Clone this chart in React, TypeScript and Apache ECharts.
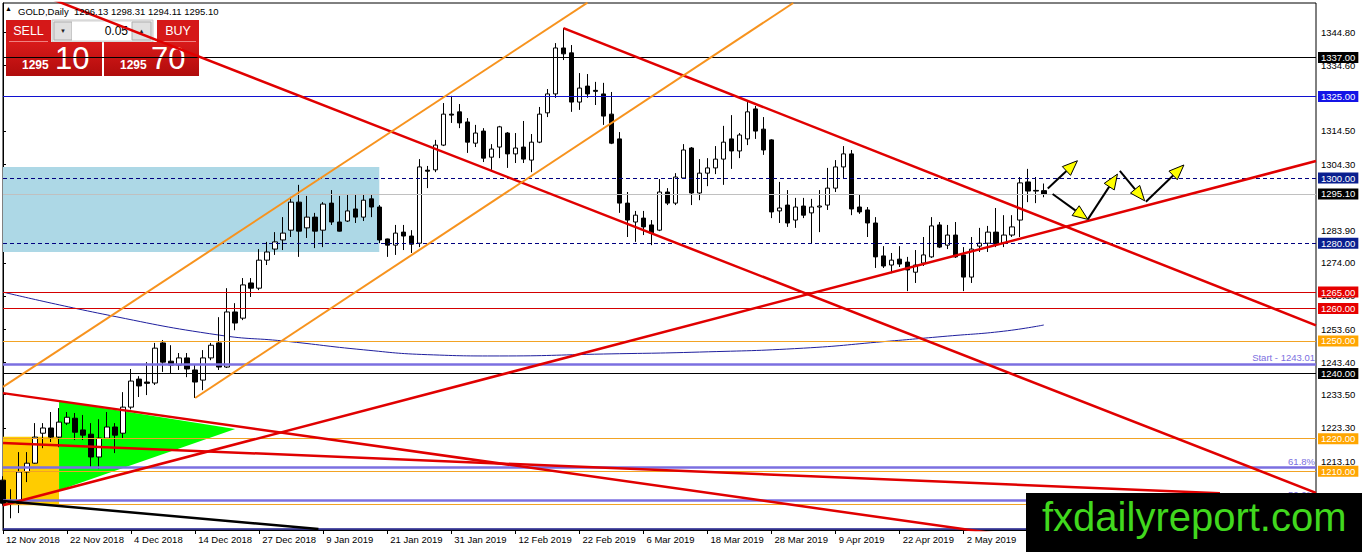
import React, { useEffect, useRef } from "react";
import * as echarts from "echarts";

// ---------- data ----------
const xTickLabels = [
  "12 Nov 2018", "22 Nov 2018", "4 Dec 2018", "14 Dec 2018", "27 Dec 2018", "9 Jan 2019",
  "21 Jan 2019", "31 Jan 2019", "12 Feb 2019", "22 Feb 2019", "6 Mar 2019", "18 Mar 2019",
  "28 Mar 2019", "9 Apr 2019", "22 Apr 2019", "2 May 2019",
];
const barsPerLabel = 8;
const totalSlots = 165;

const opens = [
  1207.3, 1200.6, 1200.2, 1209.8, 1212.5, 1221.7, 1223.3, 1220.5, 1224.8, 1226.3,
  1222.7, 1221.4, 1214.4, 1220.2, 1223.6, 1221.7, 1229.7, 1238.3, 1237.4, 1237.1,
  1249.4, 1243.8, 1242.6, 1244.8, 1241.1, 1238.0, 1244.8, 1249.4, 1242.0, 1258.9,
  1257.0, 1267.8, 1266.2, 1274.8, 1278.2, 1281.0, 1284.0, 1292.6, 1284.7, 1288.0,
  1284.0, 1292.3, 1286.5, 1286.8, 1290.5, 1288.0, 1293.6, 1291.1, 1281.3, 1279.4,
  1283.4, 1282.2, 1280.0, 1302.4, 1302.5, 1310.1, 1319.6, 1320.3, 1317.2, 1310.7,
  1314.4, 1306.4, 1309.5, 1313.8, 1307.4, 1309.5, 1305.5, 1311.0, 1320.0, 1325.8,
  1339.9, 1338.4, 1323.3, 1328.2, 1326.9, 1325.8, 1319.6, 1312.0, 1292.3, 1286.5,
  1287.7, 1285.6, 1284.0, 1295.7, 1292.3, 1300.0, 1309.2, 1295.4, 1301.5, 1303.1,
  1305.8, 1312.0, 1308.3, 1312.0, 1321.2, 1315.0, 1311.7, 1289.9, 1291.7, 1287.1,
  1291.4, 1289.3, 1291.1, 1291.7, 1296.9, 1303.4, 1307.4, 1291.1, 1290.2, 1286.2,
  1276.1, 1273.3, 1275.1, 1274.2, 1271.1, 1273.9, 1275.8, 1285.6, 1279.4, 1282.5,
  1276.4, 1269.6, 1279.1, 1280.0, 1283.4, 1280.0, 1282.5, 1287.1, 1298.8, 1296.2,
  1296.13,
];
const highs = [
  1208.5, 1204.5, 1215.9, 1215.9, 1224.8, 1224.8, 1228.2, 1229.4, 1228.2, 1227.9,
  1227.3, 1224.8, 1226.0, 1228.2, 1224.8, 1234.3, 1241.4, 1239.2, 1243.5, 1249.4,
  1250.3, 1248.7, 1246.3, 1246.3, 1242.6, 1247.2, 1249.4, 1257.3, 1266.2, 1261.6,
  1269.3, 1269.3, 1278.2, 1280.4, 1283.4, 1288.0, 1294.2, 1297.9, 1294.5, 1289.3,
  1292.6, 1296.3, 1294.5, 1295.1, 1295.1, 1295.1, 1295.1, 1291.7, 1281.4, 1285.6,
  1285.6, 1284.0, 1305.8, 1303.7, 1311.7, 1323.0, 1325.2, 1322.7, 1318.4, 1316.3,
  1315.3, 1310.4, 1316.0, 1314.1, 1313.8, 1317.5, 1313.5, 1321.8, 1327.3, 1341.4,
  1346.0, 1340.8, 1332.2, 1331.9, 1329.5, 1329.2, 1326.4, 1314.1, 1295.7, 1289.9,
  1289.9, 1287.1, 1299.7, 1296.9, 1301.5, 1310.4, 1309.5, 1305.8, 1306.1, 1309.8,
  1316.0, 1319.3, 1313.8, 1323.3, 1322.1, 1318.7, 1311.9, 1298.8, 1296.3, 1293.9,
  1293.9, 1293.6, 1296.3, 1303.1, 1305.5, 1309.8, 1308.6, 1295.1, 1291.1, 1288.0,
  1279.1, 1277.0, 1279.1, 1275.8, 1277.9, 1281.9, 1288.0, 1286.5, 1285.6, 1286.5,
  1278.8, 1281.9, 1284.7, 1285.3, 1290.8, 1288.6, 1288.6, 1300.3, 1302.8, 1300.3,
  1298.31,
];
const lows = [
  1199.5, 1195.6, 1197.2, 1206.7, 1212.3, 1217.1, 1219.0, 1217.4, 1224.2, 1219.6,
  1219.6, 1211.3, 1210.7, 1220.0, 1215.6, 1220.2, 1229.0, 1232.8, 1233.4, 1236.5,
  1240.5, 1240.1, 1241.1, 1238.9, 1232.5, 1234.9, 1244.1, 1241.1, 1241.7, 1253.3,
  1256.4, 1263.5, 1265.6, 1273.3, 1276.4, 1277.9, 1281.9, 1275.8, 1281.6, 1278.5,
  1278.8, 1285.6, 1283.6, 1286.5, 1286.2, 1286.8, 1288.0, 1280.0, 1275.8, 1276.4,
  1277.9, 1277.0, 1278.8, 1296.9, 1301.8, 1309.8, 1316.9, 1315.3, 1307.7, 1309.5,
  1304.9, 1302.5, 1306.1, 1303.1, 1304.6, 1304.6, 1301.8, 1310.7, 1318.7, 1324.6,
  1336.2, 1320.3, 1320.9, 1324.6, 1322.4, 1316.3, 1310.4, 1289.3, 1281.9, 1280.4,
  1282.5, 1279.4, 1283.7, 1291.7, 1291.7, 1299.7, 1291.7, 1293.2, 1297.5, 1301.2,
  1297.9, 1302.8, 1306.1, 1310.1, 1312.0, 1307.1, 1287.7, 1286.2, 1285.0, 1284.7,
  1287.7, 1280.0, 1283.4, 1290.2, 1295.7, 1300.0, 1288.6, 1289.0, 1281.9, 1272.4,
  1272.4, 1270.8, 1272.7, 1265.3, 1267.8, 1273.0, 1275.5, 1278.5, 1278.2, 1275.5,
  1265.3, 1267.8, 1277.3, 1277.3, 1278.8, 1278.8, 1281.9, 1281.9, 1292.6, 1292.3,
  1294.11,
];
const closes = [
  1200.2, 1200.4, 1209.8, 1212.5, 1220.5, 1223.3, 1220.5, 1225.1, 1226.6, 1222.0,
  1221.1, 1214.4, 1220.2, 1223.6, 1221.1, 1229.7, 1237.7, 1236.2, 1237.0, 1247.8,
  1243.5, 1242.6, 1244.8, 1241.4, 1237.4, 1244.8, 1248.7, 1242.0, 1258.9, 1255.5,
  1267.2, 1266.2, 1274.8, 1277.3, 1280.4, 1283.1, 1292.6, 1283.7, 1288.0, 1283.7,
  1292.0, 1286.5, 1283.7, 1289.9, 1288.0, 1293.2, 1291.1, 1281.0, 1279.4, 1283.1,
  1282.2, 1279.7, 1303.4, 1302.1, 1310.1, 1319.6, 1319.3, 1316.9, 1311.0, 1313.8,
  1306.1, 1308.9, 1315.7, 1307.4, 1309.2, 1305.8, 1311.0, 1319.6, 1325.8, 1339.9,
  1338.1, 1323.3, 1327.6, 1325.8, 1326.6, 1319.0, 1310.7, 1292.3, 1287.1, 1288.6,
  1285.0, 1283.1, 1295.7, 1292.3, 1300.3, 1308.6, 1295.4, 1301.5, 1303.1, 1305.8,
  1311.0, 1308.3, 1313.2, 1320.3, 1314.4, 1308.6, 1289.6, 1290.8, 1286.2, 1291.1,
  1288.6, 1291.1, 1291.4, 1296.9, 1303.4, 1307.4, 1290.5, 1289.6, 1286.2, 1275.8,
  1273.0, 1274.8, 1273.6, 1271.8, 1273.3, 1276.4, 1285.3, 1278.8, 1282.5, 1275.8,
  1269.6, 1278.2, 1280.0, 1283.4, 1279.7, 1282.5, 1285.0, 1298.5, 1296.0, 1296.0,
  1295.10,
];

// visible right-axis tick labels (those hidden under price tags are left out)
const yTicks = [1344.8, 1334.6, 1314.5, 1304.3, 1283.9, 1274.0, 1263.8, 1253.6, 1243.4, 1233.5, 1223.3, 1213.1];
const yMin = 1192;
const yMax = 1353.7;

// horizontal price levels
const blackLevels = [1337, 1240];
const blueLevels = [1325];
const dashedLevels = [1300, 1280];
const bidLevels = [1295.1];
const redLevels = [1265, 1260];
const orangeLevels = [1250, 1220, 1210];
const orangeHiddenLevels = [1200];
const fibLevels = [1243.01, 1211.3, 1201.2];
const fibNames = ["Start - 1243.01", "61.8%", "50.0%"];
const bottomLevel = [1192.3];

// trend lines: [barIndex, price]
const redTrendLines = [
  [[6, 1355.0], [164, 1203.4]],
  [[70, 1346.0], [164, 1254.8]],
  [[0, 1199.6], [164, 1305.2]],
  [[0, 1234.0], [130, 1188.8]],
  [[0, 1218.7], [152, 1203.3]],
];
const blackTrendLine = [[0, 1200.9], [39.4, 1192.3]];
const orangeChannel = [
  [[0, 1235.9], [73, 1353.8]],
  [[24, 1232.5], [98.7, 1353.7]],
];
const movingAverage = [
  [0, 1265.0], [13, 1258.0], [27, 1251.8], [35, 1250.0], [45, 1247.3], [53, 1245.8],
  [62, 1245.4], [75, 1246.0], [87, 1246.6], [100, 1247.8], [110, 1249.8], [118, 1251.5],
  [125, 1253.0], [130, 1254.9],
];

// zones
const blueZone = [[-1, 1277.3], [47, 1277.3], [47, 1303.4], [-1, 1303.4]];
const yellowZone = [[-1, 1199.6], [7, 1199.6], [7, 1220.6], [-1, 1220.6]];
const greenTriangle = [[7, 1231.6], [7, 1204.2], [29, 1223.0]];

// projected path arrows: [from, to]
const arrows = [
  [[130.5, 1296.8], [134.2, 1305.3]],
  [[131.1, 1295.1], [135.5, 1287.3]],
  [[135.5, 1287.3], [139.2, 1301.2]],
  [[139.5, 1302.2], [142.6, 1293.0]],
  [[142.75, 1292.7], [147.5, 1304.0]],
];

const headerText = "GOLD,Daily  1296.13 1298.31 1294.11 1295.10";

// ---------- chart ----------
const FONT = "'Liberation Sans', Arial, sans-serif";

export default function App() {
  const ref = useRef<HTMLDivElement>(null);

  useEffect(() => {
    if (!ref.current) return;
    const chart = echarts.init(ref.current, undefined, { renderer: "svg" });

    const categories = Array.from({ length: totalSlots }, (_, i) => String(i));
    const candleData = opens.map((o, i) => [o, closes[i], lows[i], highs[i]]);
    const showTick = (idx: number) => idx % barsPerLabel === 0 && idx / barsPerLabel < xTickLabels.length;

    const priceLabel = (bg: string) => ({
      show: true,
      position: "end",
      distance: 2,
      formatter: (p: any) => Number(p.value).toFixed(2),
      backgroundColor: bg,
      color: "#fff",
      padding: [1, 3, 0, 3],
      fontSize: 9.5,
      fontFamily: FONT,
    });
    const noLabel = { show: false };
    const hl = (v: number, color: string, width: number, type: any, label: any) => ({
      yAxis: v,
      lineStyle: { color, width, type },
      label,
    });

    const markLines: any[] = [
      ...blackLevels.map((v) => hl(v, "#000", 1, "solid", priceLabel("#000"))),
      ...blueLevels.map((v) => hl(v, "#1010d0", 1, "solid", priceLabel("#1414e6"))),
      ...dashedLevels.map((v) => hl(v, "#000080", 1, [4, 3], priceLabel("#0a1f8f"))),
      ...bidLevels.map((v) => hl(v, "#c0c0c0", 1, "solid", priceLabel("#000"))),
      ...redLevels.map((v) => hl(v, "#d40000", 1, "solid", priceLabel("#e60000"))),
      ...orangeLevels.map((v) => hl(v, "#f2a324", 1, "solid", priceLabel("#ffa500"))),
      ...orangeHiddenLevels.map((v) => hl(v, "#f2a324", 1, "solid", noLabel)),
      ...fibLevels.map((v, i) =>
        hl(v, "#7b6fe0", 2.5, "solid", {
          show: true,
          position: "insideEndTop",
          distance: 1,
          formatter: fibNames[i],
          color: "#7b6fe0",
          fontSize: 9.5,
          fontFamily: FONT,
        })
      ),
      ...bottomLevel.map((v) => hl(v, "#1a1a8a", 1.5, "solid", noLabel)),
    ];

    const lineSeries = (pts: number[][], color: string, width: number, z: number, smooth = false) => ({
      type: "line",
      xAxisIndex: 1,
      yAxisIndex: 0,
      data: pts,
      showSymbol: false,
      symbol: "none",
      smooth,
      clip: true,
      silent: true,
      z,
      lineStyle: { color, width },
    });

    const shapes = [
      { pts: blueZone, color: "#add8e6" },
      { pts: yellowZone, color: "#ffcc00" },
      { pts: greenTriangle, color: "#00ff00" },
    ];

    const option: any = {
      animation: false,
      backgroundColor: "#fff",
      grid: { left: 3, right: 46, top: 3, bottom: 22, show: true, borderColor: "#000", borderWidth: 1, backgroundColor: "transparent" },
      xAxis: [
        {
          type: "category",
          data: categories,
          boundaryGap: false,
          axisLine: { lineStyle: { color: "#000", width: 1 } },
          axisTick: { show: true, interval: (idx: number) => showTick(idx), length: 4, lineStyle: { color: "#000" } },
          axisLabel: {
            interval: (idx: number) => showTick(idx),
            formatter: (_v: string, idx: number) => xTickLabels[idx / barsPerLabel] ?? "",
            align: "left",
            padding: [0, 0, 0, 3],
            margin: 4,
            fontSize: 9.5,
            color: "#000",
            fontFamily: FONT,
          },
          splitLine: { show: false },
        },
        { type: "value", min: 0, max: totalSlots - 1, show: false },
      ],
      yAxis: {
        type: "value",
        position: "right",
        min: yMin,
        max: yMax,
        splitLine: { show: false },
        axisLine: { show: true, lineStyle: { color: "#000" } },
        axisTick: { show: true, length: 3, customValues: yTicks, lineStyle: { color: "#000" } },
        axisLabel: {
          customValues: yTicks,
          formatter: (v: number) => v.toFixed(2),
          fontSize: 9.5,
          margin: 5,
          color: "#000",
          fontFamily: FONT,
        },
      },
      series: [
        {
          type: "custom",
          xAxisIndex: 1,
          yAxisIndex: 0,
          silent: true,
          z: 1,
          data: shapes.map((s) => s.pts[s.pts.length - 1].map((v, k) => (k === 0 ? Math.max(0, v) : v))),
          renderItem: (params: any, api: any) => {
            const s = shapes[params.dataIndex];
            const cs = params.coordSys;
            const pts = s.pts.map((p) => {
              const c = api.coord(p);
              return [
                Math.max(cs.x, Math.min(cs.x + cs.width, c[0])),
                Math.max(cs.y, Math.min(cs.y + cs.height, c[1])),
              ];
            });
            return { type: "polygon", shape: { points: pts }, style: { fill: s.color } };
          },
        },
        lineSeries(movingAverage, "#1f1f9e", 1, 2, true),
        {
          type: "candlestick",
          xAxisIndex: 0,
          yAxisIndex: 0,
          data: candleData,
          barWidth: 5,
          clip: true,
          silent: true,
          z: 3,
          itemStyle: { color: "#fff", color0: "#000", borderColor: "#000", borderColor0: "#000", borderWidth: 1 },
          markLine: {
            symbol: ["none", "none"],
            silent: true,
            animation: false,
            data: markLines,
          },
        },
        ...redTrendLines.map((l) => lineSeries(l, "#e00000", 2.5, 6)),
        lineSeries(blackTrendLine, "#000", 2.5, 6),
        ...orangeChannel.map((l) => lineSeries(l, "#f7931e", 2, 6)),
        {
          type: "custom",
          xAxisIndex: 1,
          yAxisIndex: 0,
          silent: true,
          z: 8,
          data: arrows.map((a) => a[1]),
          renderItem: (params: any, api: any) => {
            const a = arrows[params.dataIndex];
            const s = api.coord(a[0]);
            const t = api.coord(a[1]);
            const dx = t[0] - s[0];
            const dy = t[1] - s[1];
            const len = Math.sqrt(dx * dx + dy * dy) || 1;
            const ux = dx / len;
            const uy = dy / len;
            const L = 15;
            const W = 12;
            const bx = t[0] - ux * L;
            const by = t[1] - uy * L;
            const nx = -uy;
            const ny = ux;
            return {
              type: "group",
              children: [
                { type: "line", shape: { x1: s[0], y1: s[1], x2: bx, y2: by }, style: { stroke: "#000", lineWidth: 2 } },
                {
                  type: "polygon",
                  shape: { points: [t, [bx + (nx * W) / 2, by + (ny * W) / 2], [bx - (nx * W) / 2, by - (ny * W) / 2]] },
                  style: { fill: "#ffff00", stroke: "#000", lineWidth: 1 },
                },
              ],
            };
          },
        },
      ],
      graphic: [
        // header
        { type: "text", left: 5, top: 5, z: 100, style: { text: "▲", fontSize: 7, fill: "#000", fontFamily: FONT } },
        { type: "text", x: 18, y: 11, z: 100, style: { text: headerText, fontSize: 9.5, fill: "#000", fontFamily: FONT, verticalAlign: "middle" } },
        // trade panel
        {
          type: "group",
          z: 100,
          children: [
            { type: "rect", shape: { x: 6, y: 20, width: 45, height: 22 }, style: { fill: "#d51818" } },
            { type: "line", shape: { x1: 9, y1: 41.5, x2: 48, y2: 41.5 }, style: { stroke: "#f08080", lineWidth: 1 } },
            { type: "text", x: 28.5, y: 31, style: { text: "SELL", fill: "#fff", fontSize: 12.5, fontFamily: FONT, align: "center", verticalAlign: "middle" } },
            { type: "rect", shape: { x: 52, y: 20, width: 101, height: 22 }, style: { fill: "#e8e8e8", stroke: "#c8c8c8" } },
            { type: "rect", shape: { x: 54, y: 22, width: 18, height: 18 }, style: { fill: "#e0e0e0", stroke: "#b0b0b0" } },
            { type: "text", x: 63, y: 31, style: { text: "▼", fill: "#222", fontSize: 6, align: "center", verticalAlign: "middle" } },
            { type: "rect", shape: { x: 72, y: 22, width: 60, height: 18 }, style: { fill: "#fff" } },
            { type: "text", x: 128, y: 31, style: { text: "0.05", fill: "#000", fontSize: 12, fontFamily: FONT, align: "right", verticalAlign: "middle" } },
            { type: "rect", shape: { x: 132, y: 22, width: 19, height: 18 }, style: { fill: "#e0e0e0", stroke: "#b0b0b0" } },
            { type: "text", x: 141.5, y: 31, style: { text: "▲", fill: "#222", fontSize: 6, align: "center", verticalAlign: "middle" } },
            { type: "rect", shape: { x: 157, y: 20, width: 42, height: 22 }, style: { fill: "#d51818" } },
            { type: "line", shape: { x1: 160, y1: 41.5, x2: 196, y2: 41.5 }, style: { stroke: "#f08080", lineWidth: 1 } },
            { type: "text", x: 178, y: 31, style: { text: "BUY", fill: "#fff", fontSize: 12.5, fontFamily: FONT, align: "center", verticalAlign: "middle" } },
            {
              type: "rect",
              shape: { x: 6, y: 42, width: 96, height: 34 },
              style: { fill: new echarts.graphic.LinearGradient(0, 0, 0, 1, [{ offset: 0, color: "#d91a1a" }, { offset: 1, color: "#b00c0c" }]) },
            },
            {
              type: "rect",
              shape: { x: 104, y: 42, width: 95, height: 34 },
              style: { fill: new echarts.graphic.LinearGradient(0, 0, 0, 1, [{ offset: 0, color: "#d91a1a" }, { offset: 1, color: "#b00c0c" }]) },
            },
            { type: "text", x: 22, y: 71, style: { text: "1295", fill: "#fff", fontSize: 12, fontWeight: "bold", fontFamily: FONT, verticalAlign: "bottom" } },
            { type: "text", x: 55, y: 74, style: { text: "10", fill: "#fff", fontSize: 31, fontFamily: FONT, verticalAlign: "bottom" } },
            { type: "text", x: 120, y: 71, style: { text: "1295", fill: "#fff", fontSize: 12, fontWeight: "bold", fontFamily: FONT, verticalAlign: "bottom" } },
            { type: "text", x: 151, y: 74, style: { text: "70", fill: "#fff", fontSize: 31, fontFamily: FONT, verticalAlign: "bottom" } },
          ],
        },
        // watermark
        { type: "rect", z: 110, shape: { x: 1026, y: 493, width: 336, height: 59 }, style: { fill: "#000" } },
        {
          type: "text",
          z: 111,
          x: 1042,
          y: 517,
          style: { text: "fxdailyreport.com", fill: "#41d81e", fontSize: 40, fontFamily: FONT, verticalAlign: "middle" },
        },
      ],
    };

    chart.setOption(option);
    return () => chart.dispose();
  }, []);

  return <div ref={ref} style={{ position: "absolute", left: 0, top: 0, width: 1362, height: 552 }} />;
}
